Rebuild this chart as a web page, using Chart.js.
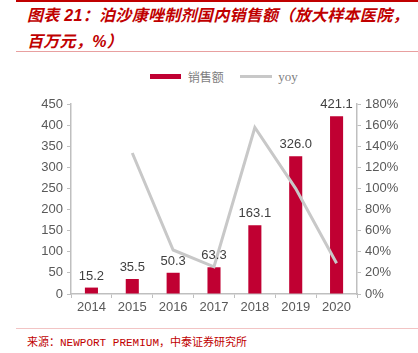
<!DOCTYPE html>
<html>
<head>
<meta charset="utf-8">
<script src="https://cdn.jsdelivr.net/npm/chart.js@4"></script>
<style>
  body { margin: 0; background: #fff; width: 418px; height: 353px; overflow: hidden; position: relative; font-family: "Liberation Sans", Arial, sans-serif; }
  .topline { position: absolute; left: 16px; right: 0; top: 0; height: 2px; background: #C00000; }
  .title { position: absolute; left: 27px; top: 3px; color: #C00000; font: italic bold 16px "Liberation Sans", "Noto Sans CJK SC", sans-serif; line-height: 26px; letter-spacing: 0.3px; white-space: nowrap; }
  .sep { position: absolute; left: 16px; right: 0; top: 51px; height: 1px; background: #E8A0A0; }
  .sep2 { position: absolute; left: 16px; right: 0; top: 328px; height: 1px; background: #F2C4C4; }
  .source { position: absolute; left: 27px; top: 333px; color: #C00000; font: 11px "Liberation Mono", "Noto Sans CJK SC", monospace; white-space: nowrap; }
  .legend { position: absolute; top: 66px; left: 150px; font: 12px "Noto Sans CJK SC", sans-serif; color: #7f7f7f; white-space: nowrap; }
  .legend span { display: inline-block; vertical-align: middle; }
  #wrap { position: absolute; left: 0; top: 56px; width: 418px; height: 272px; }
</style>
</head>
<body>
<div class="topline"></div>
<div class="title">图表 21：泊沙康唑制剂国内销售额（放大样本医院，<br>百万元，%）</div>
<div class="sep"></div>
<div class="legend">
  <span style="width:31px;height:5px;background:#C00032;"></span>
  <span style="margin-left:4px;">销售额</span>
  <span style="width:32px;height:3px;background:#C8C8C8;margin-left:14px;"></span>
  <span style="margin-left:3px;font-family:'Liberation Serif',serif;font-size:13px;">yoy</span>
</div>
<div id="wrap"><canvas id="c"></canvas></div>
<div class="sep2"></div>
<div class="source">来源：NEWPORT PREMIUM，中泰证券研究所</div>
<script>
const years = ['2014', '2015', '2016', '2017', '2018', '2019', '2020'];
const sales = [15.2, 35.5, 50.3, 63.3, 163.1, 326.0, 421.1];
const yoy = [null, 133.6, 41.7, 25.8, 157.7, 99.9, 29.2];

const barLabels = {
    id: 'barLabels',
    afterDatasetsDraw(chart) {
        const ctx = chart.ctx;
        const meta = chart.getDatasetMeta(0);
        ctx.save();
        ctx.font = '13px "Liberation Sans", Arial, sans-serif';
        ctx.fillStyle = '#404040';
        ctx.textAlign = 'center';
        ctx.textBaseline = 'bottom';
        meta.data.forEach((bar, i) => {
            ctx.fillText(sales[i].toFixed(1), bar.x, bar.y - 5);
        });
        ctx.restore();
    }
};

new Chart(document.getElementById('c'), {
    data: {
        labels: years,
        datasets: [{
            type: 'bar',
            label: '销售额',
            data: sales,
            backgroundColor: '#C00032',
            barPercentage: 0.32,
            categoryPercentage: 1,
            yAxisID: 'y',
            order: 2
        }, {
            type: 'line',
            label: 'yoy',
            data: yoy,
            borderColor: '#C8C8C8',
            borderWidth: 3,
            pointRadius: 0,
            tension: 0,
            yAxisID: 'y1',
            order: 1
        }]
    },
    options: {
        responsive: true,
        maintainAspectRatio: false,
        animation: false,
        layout: { padding: { top: 48, left: 0, right: 0, bottom: 0 } },
        plugins: {
            legend: { display: false },
            tooltip: { enabled: false }
        },
        scales: {
            x: {
                offset: true,
                grid: { display: true, drawOnChartArea: false, drawTicks: true, tickLength: 4, color: '#BFBFBF', offset: true },
                border: { color: '#BFBFBF', width: 1.5 },
                ticks: { font: { size: 13, family: '"Liberation Sans", Arial' }, color: '#595959', padding: 2 },
                afterFit(scale) { scale.height = 34; }
            },
            y: {
                position: 'left',
                min: 0,
                max: 450,
                ticks: { stepSize: 50, font: { size: 13, family: '"Liberation Sans", Arial' }, color: '#595959', padding: 4 },
                grid: { display: true, drawOnChartArea: false, drawTicks: true, tickLength: 4, color: '#BFBFBF' },
                border: { color: '#BFBFBF', width: 1.5 },
                afterFit(scale) { scale.width = 71; }
            },
            y1: {
                position: 'right',
                min: 0,
                max: 180,
                ticks: { stepSize: 20, callback: v => v + '%', font: { size: 13, family: '"Liberation Sans", Arial' }, color: '#595959', padding: 4 },
                grid: { display: true, drawOnChartArea: false, drawTicks: true, tickLength: 4, color: '#BFBFBF' },
                border: { color: '#BFBFBF', width: 1.5 },
                afterFit(scale) { scale.width = 61; }
            }
        }
    },
    plugins: [barLabels]
});
</script>
</body>
</html>
